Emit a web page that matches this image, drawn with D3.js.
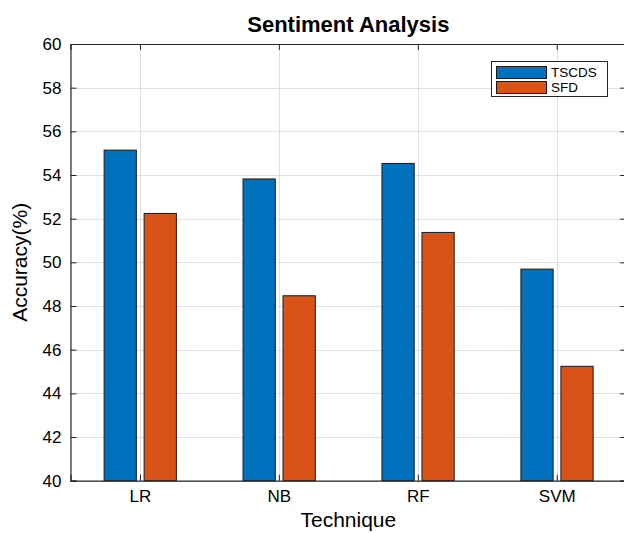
<!DOCTYPE html>
<html>
<head>
<meta charset="utf-8">
<script src="https://cdn.jsdelivr.net/npm/d3@7"></script>
<style>
  html, body { margin: 0; padding: 0; background: #fff; }
  svg text { font-family: "Liberation Sans", Arial, Helvetica, sans-serif; fill: #000; }
</style>
</head>
<body>
<svg id="chart" width="624" height="533"></svg>
<script>
const categories = ["LR", "NB", "RF", "SVM"];
const seriesNames = ["TSCDS", "SFD"];
const tscds = [55.14, 53.82, 54.53, 49.69];
const sfd = [52.24, 48.47, 51.37, 45.24];
const yTicks = [40, 42, 44, 46, 48, 50, 52, 54, 56, 58, 60];
const colors = ["#0072BD", "#D95319"];

const svg = d3.select("#chart");
const mLeft = 70.5, mRight = 626.2, mTop = 44, mBottom = 480.7;

const x = d3.scaleLinear().domain([0.5, 4.5]).range([mLeft, mRight]);
const y = d3.scaleLinear().domain([40, 60]).range([mBottom, mTop]);

const barW = 0.232;
const offsets = [-0.142, 0.146];
const series = [tscds, sfd];

// grid
const grid = svg.append("g").attr("stroke", "#dfdfdf").attr("stroke-width", 1);
yTicks.forEach(t => {
  grid.append("line").attr("x1", mLeft).attr("x2", mRight)
    .attr("y1", Math.round(y(t)) + 0.5).attr("y2", Math.round(y(t)) + 0.5);
});
categories.forEach((c, i) => {
  grid.append("line").attr("x1", Math.round(x(i + 1)) + 0.5).attr("x2", Math.round(x(i + 1)) + 0.5)
    .attr("y1", mTop).attr("y2", mBottom);
});

// bars
series.forEach((vals, s) => {
  svg.append("g").selectAll("rect").data(vals).join("rect")
    .attr("x", (d, i) => x(i + 1 + offsets[s] - barW / 2))
    .attr("width", x(barW) - x(0))
    .attr("y", d => y(d))
    .attr("height", d => y(40) - y(d))
    .attr("fill", colors[s])
    .attr("stroke", "#1a1a1a")
    .attr("stroke-width", 1);
});

// axes
const axisColor = "#262626";
const yAxis = d3.axisLeft(y).tickValues(yTicks).tickSize(-6).tickPadding(9).tickFormat(d3.format("d"));
const gy = svg.append("g").attr("transform", `translate(${mLeft},0)`).call(yAxis);
gy.selectAll("text").style("font-size", "17px").attr("fill", "#000");

const xAxis = d3.axisBottom(x).tickValues([1, 2, 3, 4]).tickSize(-6).tickPadding(9)
  .tickFormat(d => categories[d - 1]);
const gx = svg.append("g").attr("transform", `translate(0,${mBottom})`).call(xAxis);
gx.selectAll("text").style("font-size", "17px").attr("fill", "#000");

const yAxisR = d3.axisRight(y).tickValues(yTicks).tickSize(-6).tickFormat("");
svg.append("g").attr("transform", `translate(${mRight},0)`).call(yAxisR);
const xAxisT = d3.axisTop(x).tickValues([1, 2, 3, 4]).tickSize(-6).tickFormat("");
svg.append("g").attr("transform", `translate(0,${mTop})`).call(xAxisT);

svg.selectAll(".domain").attr("stroke", axisColor).attr("stroke-width", 1.2);
svg.selectAll(".tick line").attr("stroke", axisColor);

// title and labels
svg.append("text").attr("x", (mLeft + mRight) / 2).attr("y", 31.5)
  .attr("text-anchor", "middle").style("font-size", "22px").style("font-weight", "bold")
  .text("Sentiment Analysis");
svg.append("text").attr("x", (mLeft + mRight) / 2).attr("y", 527)
  .attr("text-anchor", "middle").style("font-size", "21px")
  .text("Technique");
svg.append("text").attr("transform", `translate(27,${(mTop + mBottom) / 2}) rotate(-90)`)
  .attr("text-anchor", "middle").style("font-size", "21px")
  .text("Accuracy(%)");

// legend
const lg = svg.append("g");
lg.append("rect").attr("x", 491.5).attr("y", 61.5).attr("width", 116).attr("height", 35)
  .attr("fill", "#fff").attr("stroke", axisColor).attr("stroke-width", 1);
seriesNames.forEach((n, i) => {
  lg.append("rect").attr("x", 496.5).attr("y", 66.5 + i * 15).attr("width", 50).attr("height", 12)
    .attr("fill", colors[i]).attr("stroke", "#1a1a1a").attr("stroke-width", 1);
  lg.append("text").attr("x", 551).attr("y", 77 + i * 15).style("font-size", "13.5px")
    .text(n);
});
</script>
</body>
</html>
